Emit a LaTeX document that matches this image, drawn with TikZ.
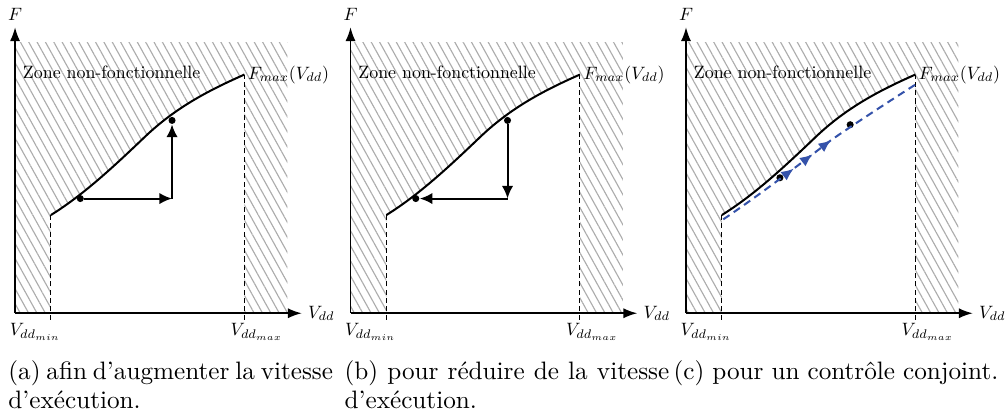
\documentclass[tikz,border=0pt]{standalone}
\usetikzlibrary{arrows.meta,patterns.meta,decorations.markings}

\definecolor{pathblue}{RGB}{52,82,170}

\tikzset{
  lab/.style={font=\normalsize, scale=0.71, inner sep=1pt},
  capt/.style={font=\fontsize{10}{11.5}\selectfont, text width=4.53cm, align=justify, inner sep=0pt, anchor=north west},
  dot/.style={circle, fill, inner sep=0pt, minimum size=2.8pt},
  hatch/.style={pattern={Lines[angle=-61, distance=2.9pt, line width=0.45pt]}, pattern color=gray!65},
  axis/.style={semithick, -{Latex[length=5.5pt,width=4pt]}},
  move/.style={thick, -{Latex[length=5pt,width=4.5pt]}},
  limit/.style={thin, dash pattern=on 2pt off 1.3pt},
}

\begin{document}
\begin{tikzpicture}
\useasboundingbox (-0.21,-1.38) rectangle (13.81,4.37);

% les trois graphes F(Vdd)
\foreach \p/\dx/\txt in {0/-0.1/{(a) afin d'augmenter la vitesse d'exécution.},
    1/-0.09/{(b) pour réduire de la vitesse d'exécution.},
    2/-0.18/{(c) pour un contrôle conjoint.}} {
  \begin{scope}[xshift=\p*4.68cm]
    \coordinate (lo\p) at (0.5,1.37);
    \coordinate (hi\p) at (3.2,3.33);

    \fill[hatch] (0,0) rectangle (3.8,3.78);
    \fill[white] (0.5,0) -- (lo\p) .. controls (0.95,1.65) and (1.36,2.03) .. (1.81,2.46)
      .. controls (2.26,2.89) and (2.75,3.13) .. (hi\p) -- (3.2,0) -- cycle;
    \draw[thick] (lo\p) .. controls (0.95,1.65) and (1.36,2.03) .. (1.81,2.46)
      .. controls (2.26,2.89) and (2.75,3.13) .. (hi\p);

    \draw[limit] (0.5,-0.09) -- (lo\p);
    \draw[limit] (3.2,-0.09) -- (hi\p);

    \coordinate (o\p) at (0,0);
    \coordinate (xe\p) at (4.0,0);
    \coordinate (ye\p) at (0,3.99);
    \draw[axis] (o\p) -- (xe\p);
    \draw[axis] (o\p) -- (ye\p);

    \node[lab] (f\p) at (0,4.17) {$F$};
    \node[lab, anchor=west] (v\p) at (4.06,0) {$V_{dd}$};
    \node[lab] (vmin\p) at (0.28,-0.26) {$V_{dd_{min}}$};
    \node[lab] (vmax\p) at (3.37,-0.26) {$V_{dd_{max}}$};
    \node[lab, anchor=west] (fmax\p) at (3.22,3.33) {$F_{max}(V_{dd})$};
    \node[lab, anchor=west] (zone\p) at (0.08,3.36) {Zone non-fonctionnelle};

    \node[capt] (cap\p) at (\dx,-0.655) {\txt};
  \end{scope}
}

% (a) montee en frequence
\node[dot] (a1) at (0.91,1.6) {};
\node[dot] (a2) at (2.19,2.69) {};
\coordinate (ak) at (2.19,1.6);
\draw[move] (a1) -- (ak);
\draw[move] (ak) -- (a2);

% (b) descente
\node[dot] (b1) at (6.87,2.69) {};
\node[dot] (b2) at (5.59,1.6) {};
\coordinate (bk) at (6.87,1.6);
\draw[move] (b1) -- (bk);
\draw[move] (bk) -- (b2);

% (c) controle conjoint
\node[dot] (c1) at (10.67,1.89) {};
\node[dot] (c2) at (11.65,2.63) {};
\draw[pathblue, thick, dash pattern=on 3pt off 2pt,
  postaction={decorate},
  decoration={markings,
    mark=at position 0.37 with {\arrow{Latex[length=5pt,width=4.2pt]}},
    mark=at position 0.47 with {\arrow{Latex[length=5pt,width=4.2pt]}},
    mark=at position 0.57 with {\arrow{Latex[length=5pt,width=4.2pt]}}}]
  (9.88,1.31) .. controls (10.4,1.66) and (11.0,2.12) .. (11.39,2.42)
  .. controls (11.8,2.7) and (12.2,2.96) .. (12.56,3.19);
\end{tikzpicture}
\end{document}
